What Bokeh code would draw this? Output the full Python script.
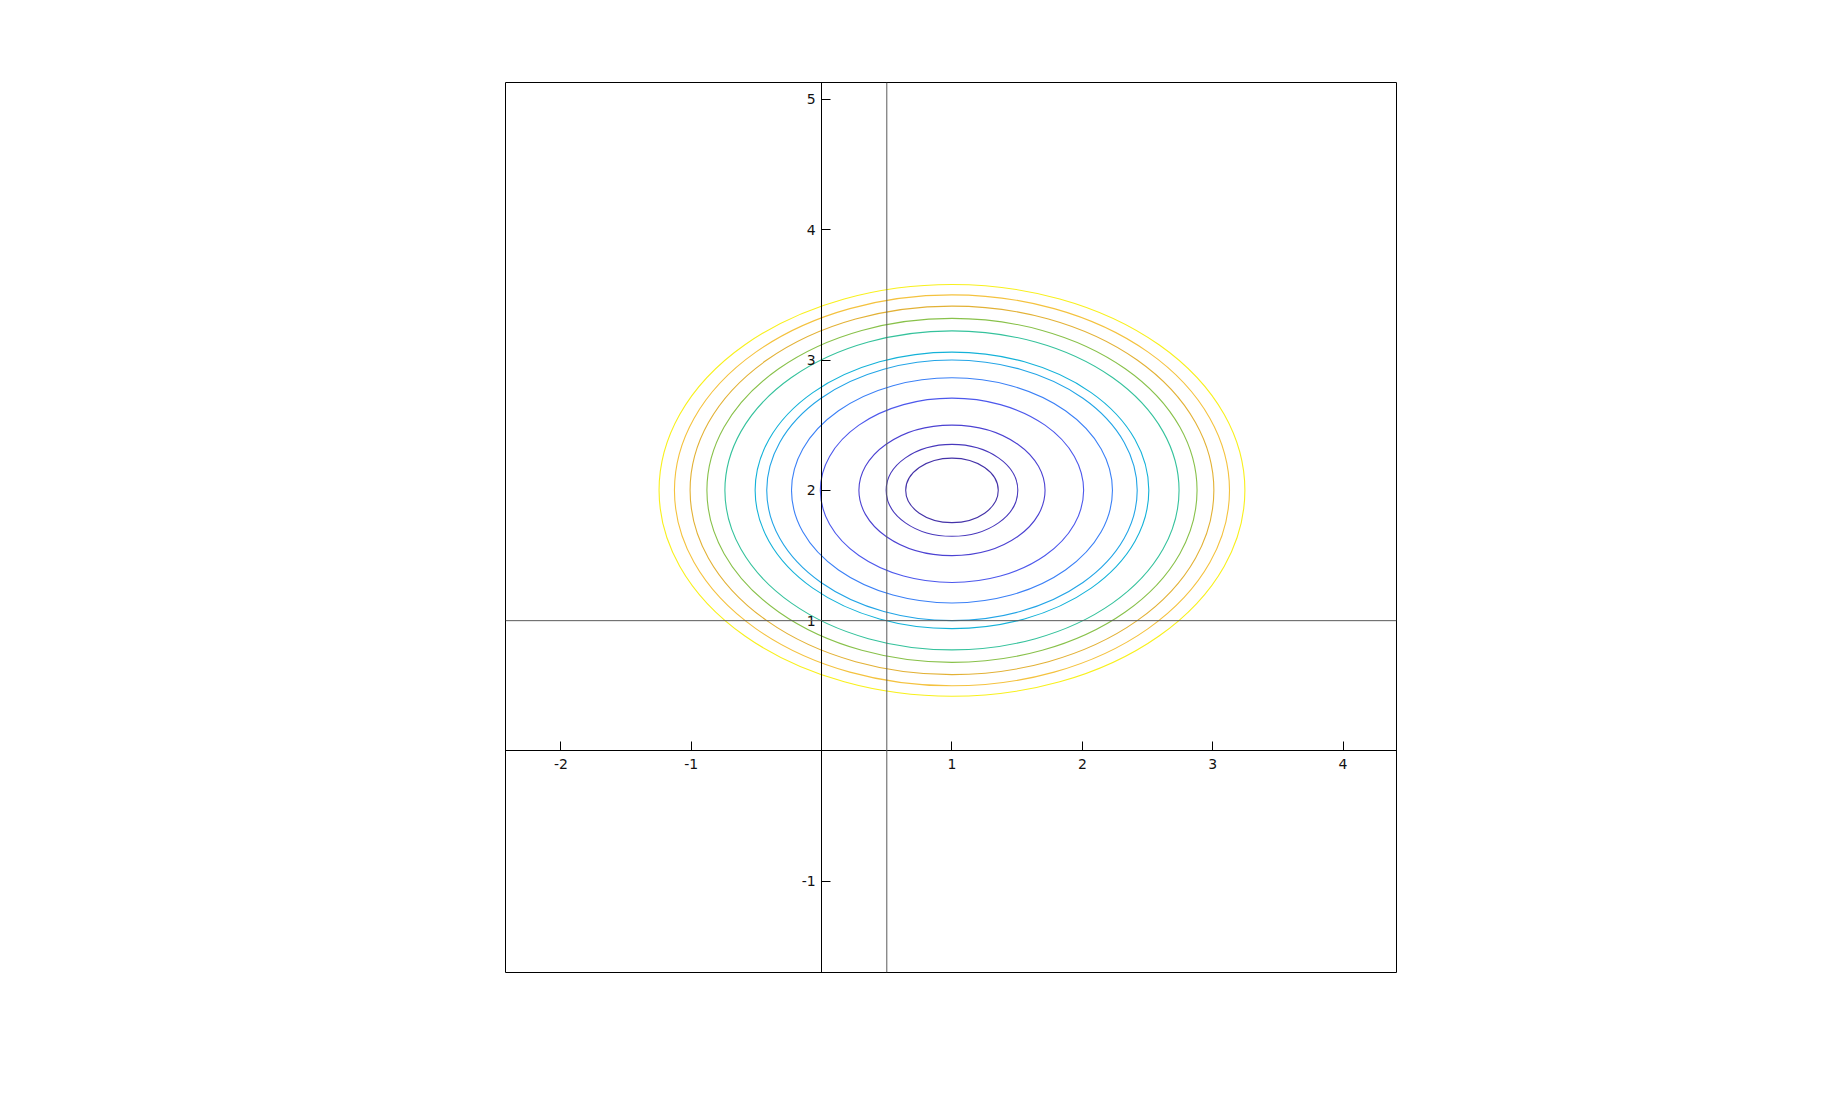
from bokeh.plotting import figure
from bokeh.models import Range1d, FixedTicker, Span, ColumnDataSource
from bokeh.embed import file_html
from bokeh.resources import INLINE

# ---- data ----
center_x = 1.0
center_y = 2.0
# semi-axes of each contour ellipse (inner -> outer), data units
semi_x = [0.355, 0.505, 0.714, 1.010, 1.231, 1.421, 1.510, 1.742, 1.880, 2.009, 2.129, 2.247]
semi_y = [0.248, 0.353, 0.501, 0.708, 0.864, 1.000, 1.061, 1.225, 1.320, 1.414, 1.501, 1.581]
contour_colors = ["#4432a8", "#4838bc", "#4c42d2", "#4d58ec", "#3b80f6", "#22a4e6",
                  "#14b2d8", "#35c29c", "#88c14a", "#e2b135", "#f4c23e", "#f8f01c"]
x_ticks = [-2, -1, 1, 2, 3, 4]
y_ticks = [-1, 1, 2, 3, 4, 5]
ref_x = 0.5
ref_y = 1.0
x_lim = (-2.425, 4.41)
y_lim = (-1.70, 5.13)

p = figure(width=1828, height=1085, output_backend="svg", toolbar_location=None,
           x_range=Range1d(*x_lim), y_range=Range1d(*y_lim),
           min_border_left=505, min_border_right=432, min_border_top=82, min_border_bottom=113)
p.background_fill_color = "white"
p.border_fill_color = "white"
p.outline_line_color = "black"
p.outline_line_width = 1
p.outline_line_alpha = 1
p.xgrid.visible = False
p.ygrid.visible = False

src = ColumnDataSource(dict(
    x=[center_x] * len(semi_x),
    y=[center_y] * len(semi_y),
    w=[2 * a for a in semi_x],
    h=[2 * b for b in semi_y],
    c=contour_colors,
))
p.ellipse(x="x", y="y", width="w", height="h", source=src,
          fill_color=None, line_color="c", line_width=1.1)

p.add_layout(Span(location=ref_x, dimension="height", line_color="#5a5a5a", line_width=1))
p.add_layout(Span(location=ref_y, dimension="width", line_color="#5a5a5a", line_width=1))

for ax, ticks in ((p.xaxis, x_ticks), (p.yaxis, y_ticks)):
    ax.fixed_location = 0
    ax.ticker = FixedTicker(ticks=ticks, minor_ticks=[])
    ax.major_label_overrides = {t: str(t) for t in ticks}
    ax.major_tick_in = 9
    ax.major_tick_out = 0
    ax.minor_tick_in = 0
    ax.minor_tick_out = 0
    ax.axis_line_color = "black"
    ax.axis_line_width = 1
    ax.major_tick_line_color = "black"
    ax.major_tick_line_width = 1
    ax.major_label_text_font = "DejaVu Sans"
    ax.major_label_text_font_size = "14px"
    ax.major_label_text_color = "#111111"

p.xaxis.major_label_standoff = 8
p.yaxis.major_label_standoff = 6

open("out.html", "w").write(file_html(p, INLINE))
